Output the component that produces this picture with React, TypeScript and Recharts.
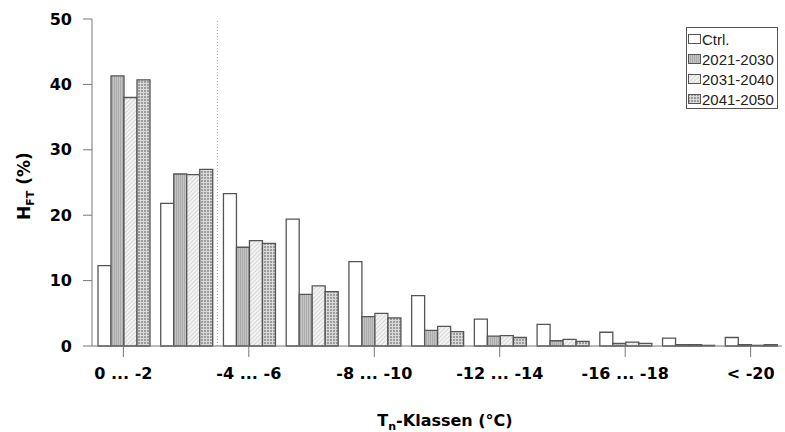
import React from 'react';
import { BarChart, Bar, XAxis, YAxis, ReferenceLine, Legend, Label } from 'recharts';

// Temperature classes (°C)
const categories = [
  '0 ... -2', '-2 ... -4', '-4 ... -6', '-6 ... -8', '-8 ... -10', '-10 ... -12',
  '-12 ... -14', '-14 ... -16', '-16 ... -18', '-18 ... -20', '< -20',
];
const ctrl = [12.3, 21.8, 23.3, 19.4, 12.9, 7.7, 4.1, 3.3, 2.1, 1.2, 1.3];
const p2021 = [41.3, 26.3, 15.1, 7.9, 4.5, 2.4, 1.5, 0.8, 0.4, 0.2, 0.2];
const p2031 = [38.0, 26.2, 16.1, 9.2, 5.0, 3.0, 1.6, 1.0, 0.6, 0.2, 0.1];
const p2041 = [40.7, 27.0, 15.7, 8.3, 4.3, 2.2, 1.3, 0.7, 0.4, 0.1, 0.2];
const yTicks = [0, 10, 20, 30, 40, 50];

const series = [
  { key: 'ctrl', name: 'Ctrl.', fill: '#ffffff' },
  { key: 'p2021', name: '2021-2030', fill: 'url(#pat2021)' },
  { key: 'p2031', name: '2031-2040', fill: 'url(#pat2031)' },
  { key: 'p2041', name: '2041-2050', fill: 'url(#pat2041)' },
];

const data = categories.map((c, i) => ({
  name: c,
  ctrl: ctrl[i],
  p2021: p2021[i],
  p2031: p2031[i],
  p2041: p2041[i],
}));

const BOLD = { fontFamily: 'DejaVu Sans', fontWeight: 'bold', fontSize: 16, fill: '#000' };

const renderLegend = () => (
  <div
    style={{
      width: 90,
      height: 79,
      border: '1px solid #555',
      background: '#fff',
      boxSizing: 'content-box',
      paddingTop: 1,
      fontFamily: 'Liberation Sans, Arial',
      fontSize: 15,
      color: '#222',
    }}
  >
    {series.map((s) => (
      <div key={s.key} style={{ height: 20, display: 'flex', alignItems: 'center', paddingLeft: 1 }}>
        <svg width={13} height={10} style={{ marginRight: 1 }}>
          <rect x={0.5} y={0.5} width={12} height={9} fill={s.fill} stroke="#555" />
        </svg>
        <span>{s.name}</span>
      </div>
    ))}
  </div>
);

export default function App() {
  return (
    <div style={{ position: 'absolute', left: 0, top: 0, width: 785, height: 432, background: '#fff' }}>
      <BarChart
        width={785}
        height={432}
        data={data}
        margin={{ top: 19, right: 3, left: 20, bottom: 46 }}
        barGap={0}
        barCategoryGap={6}
      >
        <defs>
          <pattern id="pat2021" width="2" height="4" patternUnits="userSpaceOnUse">
            <rect width="2" height="4" fill="#c4c4c4" />
            <rect width="1" height="4" fill="#ababab" />
          </pattern>
          <pattern id="pat2031" width="3" height="3" patternUnits="userSpaceOnUse" patternTransform="rotate(45)">
            <rect width="3" height="3" fill="#f4f4f4" />
            <rect width="1" height="3" fill="#d6d6d6" />
          </pattern>
          <pattern id="pat2041" width="3" height="3" patternUnits="userSpaceOnUse">
            <rect width="3" height="3" fill="#dadada" />
            <rect width="2" height="2" fill="#9c9c9c" />
          </pattern>
        </defs>
        <XAxis
          dataKey="name"
          interval={1}
          height={40}
          stroke="#777"
          tickSize={11}
          tickMargin={11}
          tick={BOLD}
        >
          <Label
            content={() => (
              <text x={445} y={426} textAnchor="middle" fontFamily="DejaVu Sans" fontWeight="bold" fontSize={16} fill="#000">
                T<tspan dy={4} fontSize={11}>n</tspan>
                <tspan dy={-4}>-Klassen (°C)</tspan>
              </text>
            )}
          />
        </XAxis>
        <YAxis
          width={72}
          domain={[0, 50]}
          ticks={yTicks}
          stroke="#777"
          tickSize={9}
          tickMargin={11}
          tick={BOLD}
        >
          <Label
            content={() => (
              <text
                x={0}
                y={0}
                transform="translate(30,186) rotate(-90)"
                textAnchor="middle"
                fontFamily="DejaVu Sans"
                fontWeight="bold"
                fontSize={17}
                fill="#000"
              >
                H<tspan dy={4} fontSize={11}>FT</tspan>
                <tspan dy={-4}> (%)</tspan>
              </text>
            )}
          />
        </YAxis>
        <ReferenceLine x="-4 ... -6" position="start" stroke="#aaa" strokeDasharray="1 2" />
        <Legend
          layout="vertical"
          align="center"
          verticalAlign="middle"
          content={renderLegend}
          wrapperStyle={{ left: 686, top: 27, width: 92 }}
        />
        {series.map((s) => (
          <Bar
            key={s.key}
            dataKey={s.key}
            name={s.name}
            fill={s.fill}
            stroke="#555"
            strokeWidth={1.3}
            isAnimationActive={false}
          />
        ))}
      </BarChart>
    </div>
  );
}
